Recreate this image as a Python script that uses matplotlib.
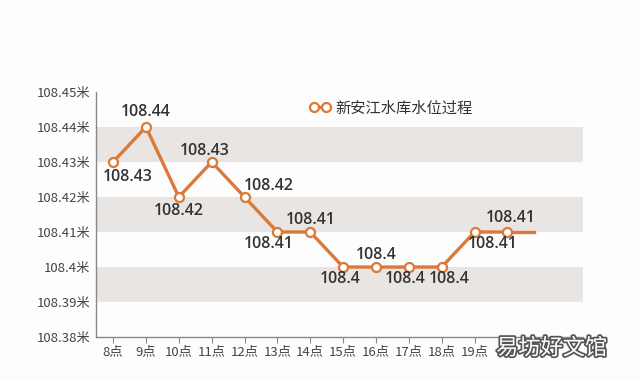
import numpy as np
import matplotlib.pyplot as plt
import matplotlib.patheffects as pe

plt.rcParams['font.family'] = ['Noto Sans CJK SC', 'DejaVu Sans']

# 数据
hours = ['8点', '9点', '10点', '11点', '12点', '13点', '14点', '15点', '16点', '17点', '18点', '19点', '']
levels = [108.43, 108.44, 108.42, 108.43, 108.42, 108.41, 108.41, 108.40, 108.40, 108.40, 108.40, 108.41, 108.41]
label_text = ['108.43', '108.44', '108.42', '108.43', '108.42', '108.41', '108.41', '108.4', '108.4', '108.4', '108.4', '108.41', '108.41']
y_ticks = [108.38, 108.39, 108.40, 108.41, 108.42, 108.43, 108.44, 108.45]
y_labels = ['108.38米', '108.39米', '108.4米', '108.41米', '108.42米', '108.43米', '108.44米', '108.45米']
tail_x = 12.8  # 线条延伸到最后

# 标签偏移 (像素)
offsets = [(15, -15), (0, 15), (0, -14), (-7, 11), (24, 11), (-9, -12), (0, 12),
           (-3, -12), (0, 12), (-4, -12), (7, -12), (18, -12), (3, 14)]

orange = '#d9793a'
dark = '#333333'

fig = plt.figure(figsize=(6.4, 3.8), dpi=100)
fig.patch.set_facecolor('#fdfdfd')
ax = fig.add_axes([0.15, 0.113, 0.761, 0.645])
ax.set_facecolor('#fdfdfd')

# 灰色条带
for lo in [108.39, 108.41, 108.43]:
    ax.axhspan(lo, lo + 0.01, color='#e8e5e2', zorder=0, lw=0)

x = np.arange(len(hours))
ax.plot([x[-1], tail_x], [levels[-1], levels[-1]], color=orange, lw=2.4, zorder=2)
ax.plot(x, levels, color=orange, lw=2.4, marker='o', ms=6.5, mfc='white',
        mec=orange, mew=1.6, zorder=3, label='新安江水库水位过程')

for xi, yi, t, off in zip(x, levels, label_text, offsets):
    ax.annotate(t, (xi, yi), xytext=off, textcoords='offset pixels',
                ha='center', va='center', fontsize=11.5, fontweight='semibold',
                family=['Open Sans', 'DejaVu Sans'], color=dark, zorder=4)

ax.set_ylim(108.38, 108.45)
ax.set_xlim(-0.52, 14.3)
ax.set_yticks(y_ticks)
ax.set_yticklabels(y_labels)
ax.set_xticks(x)
ax.set_xticklabels(hours)
ax.tick_params(axis='y', length=0, pad=4, labelsize=9.5, labelcolor='#444444')
ax.tick_params(axis='x', length=4, color='#888888', pad=2, labelsize=9.5, labelcolor='#444444')

for s in ['top', 'right']:
    ax.spines[s].set_visible(False)
for s in ['left', 'bottom']:
    ax.spines[s].set_color('#888888')
    ax.spines[s].set_linewidth(1)

leg = ax.legend(loc='upper left', bbox_to_anchor=(0.41, 1.025), frameon=False,
                numpoints=2, handlelength=1.4, handletextpad=0.3,
                prop={'size': 11})
for t in leg.get_texts():
    t.set_color(dark)

# 水印
fig.text(0.862, 0.084, '易坊好文馆', ha='center', va='center', fontsize=16,
         color='white', path_effects=[pe.withStroke(linewidth=2.5, foreground='#555555')])

fig.savefig('out.png', dpi=100, facecolor=fig.get_facecolor())
